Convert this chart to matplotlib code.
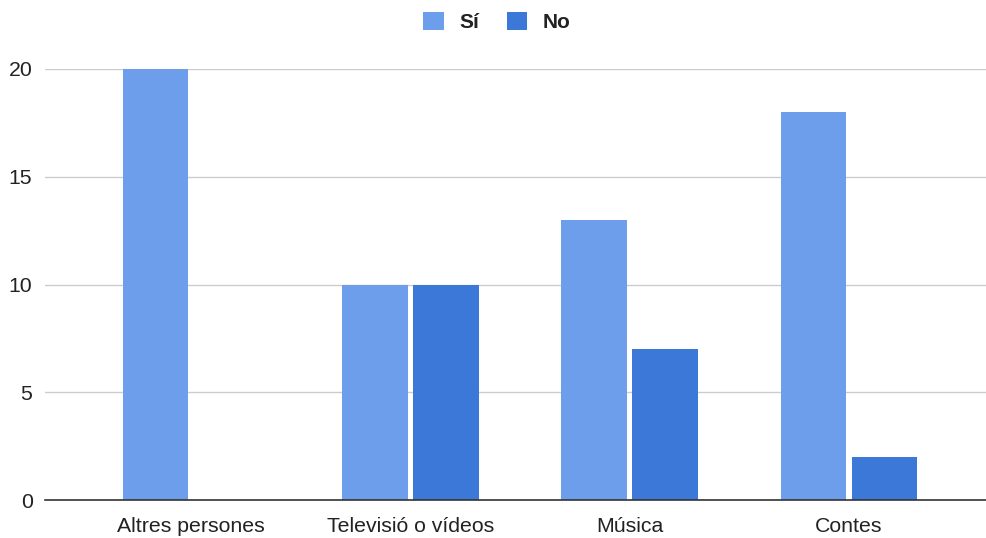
import numpy as np
import matplotlib.pyplot as plt

plt.rcParams['font.family'] = ['Liberation Sans', 'DejaVu Sans']

categories = ['Altres persones', 'Televisió o vídeos', 'Música', 'Contes']
si = [20, 10, 13, 18]
no = [0, 10, 7, 2]
series_names = ['Sí', 'No']

fig = plt.figure(figsize=(9.86, 5.38), dpi=100)
ax = fig.add_axes([45 / 986, 38 / 538, 941 / 986, 431 / 538])

x = np.arange(len(categories))
w = 0.30
off = 0.162
ax.bar(x - off, si, w, color='#6d9eeb', label=series_names[0], zorder=3)
ax.bar(x + off, no, w, color='#3c78d8', label=series_names[1], zorder=3)

ax.set_xlim(-0.666, 3.625)
ax.set_ylim(0, 20)
ax.set_yticks([0, 5, 10, 15, 20])
ax.set_xticks(x)
ax.set_xticklabels(categories)
ax.tick_params(length=0, labelsize=15.3, colors='#222222')
ax.tick_params(axis='y', pad=9)
ax.tick_params(axis='x', pad=12)
ax.grid(axis='y', color='#cccccc', linewidth=1, zorder=0)
for s in ['top', 'right', 'left']:
    ax.spines[s].set_visible(False)
ax.spines['bottom'].set_color('#333333')
ax.spines['bottom'].set_linewidth(1.2)
ax.spines['bottom'].set_zorder(4)

# legend centred above the plot at about x=497px
leg = ax.legend(loc='center', bbox_to_anchor=((497 - 45) / 941, 1 + 47 / 431),
                ncol=2, frameon=False, handlelength=1.0, handleheight=1.0,
                columnspacing=1.3, handletextpad=0.75,
                prop={'weight': 'bold', 'size': 15})
for t in leg.get_texts():
    t.set_color('#222222')

fig.savefig('out.png', dpi=100)
